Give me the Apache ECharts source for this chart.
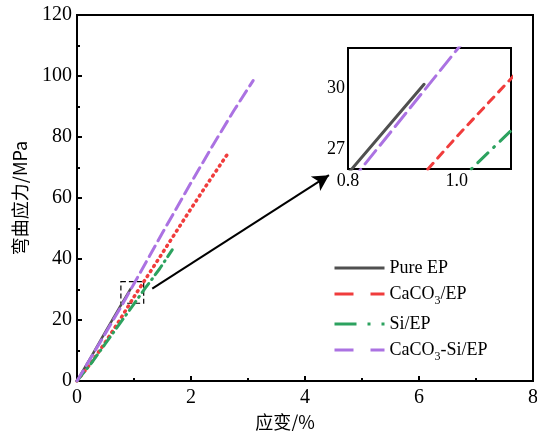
<!DOCTYPE html>
<html>
<head>
<meta charset="utf-8">
<script src="https://cdn.jsdelivr.net/npm/echarts@6/dist/echarts.min.js"></script>
<style>
  html, body { margin: 0; padding: 0; background: #fff; }
  #chart { width: 537px; height: 431px; }
</style>
</head>
<body>
<div id="chart"></div>
<script>
// Flexural stress–strain curves, [strain %, stress MPa]
const pureEP = [[0, 0], [0.25, 8.0], [0.5, 16.2], [0.75, 24.2], [0.94, 30.2]];
const caco3EP = [[0, 0], [0.25, 6.0], [0.5, 12.8], [0.75, 20.0], [1.0, 27.6], [1.5, 42.0], [2.0, 56.5], [2.3, 65.0], [2.63, 74.1]];
const siEP = [[0, 0], [0.25, 5.8], [0.5, 12.3], [0.75, 18.8], [1.0, 25.3], [1.2, 30.5], [1.45, 36.8], [1.67, 43.0]];
const caco3SiEP = [[0, 0], [0.4, 12.5], [0.8, 25.2], [1.0, 31.9], [1.5, 48.6], [2.0, 65.0], [2.4, 77.8], [2.75, 88.6], [3.09, 98.5]];

const seriesNames = ['Pure EP', 'CaCO3/EP', 'Si/EP', 'CaCO3-Si/EP'];
const xTicks = [0, 2, 4, 6, 8];
const yTicks = [0, 20, 40, 60, 80, 100, 120];
const insetXTicks = [0.8, 1.0];
const insetYTicks = [27, 30];
const insetXRange = [0.8, 1.1];
const insetYRange = [26, 32];
// magnified region outline and the pointer to the inset
const zoomBox = [[0.77, 32.6], [1.17, 25.5]];
const pointer = [[1.32, 30.3], [4.42, 67.5]];

const colors = ['#505050', '#f03c3c', '#2ca25f', '#ab72e2'];
const curves = [pureEP, caco3EP, siEP, caco3SiEP];
const mainDash = ['solid', [1, 5], [11, 5, 1, 5], [12, 6]];
const insetDash = ['solid', [8, 7], [14, 8, 1, 8], [17, 7]];
const legendDash = ['solid', [19, 17], [22, 11, 3, 11, 3, 30], [19, 17]];

const serif = 'Liberation Serif';
const labelText = { fontFamily: serif, fontSize: 20, color: '#000' };

const chart = echarts.init(document.getElementById('chart'), null, { renderer: 'canvas' });

const series = [];
curves.forEach((data, i) => {
  series.push({
    name: seriesNames[i], type: 'line', data: data,
    xAxisIndex: 0, yAxisIndex: 0,
    showSymbol: false, symbol: 'none', smooth: false,
    lineStyle: { color: colors[i], width: i === 0 ? 2.5 : (i === 1 ? 3.5 : 3), type: mainDash[i], cap: 'round' },
    itemStyle: { color: colors[i] },
    z: 3
  });
});
curves.forEach((data, i) => {
  series.push({
    name: seriesNames[i], type: 'line', data: data,
    xAxisIndex: 1, yAxisIndex: 1,
    showSymbol: false, symbol: 'none', clip: true,
    lineStyle: { color: colors[i], width: 3, type: insetDash[i], cap: 'round' },
    itemStyle: { color: colors[i] },
    z: 5
  });
});
// annotation: dashed box + arrow
series.push({
  type: 'line', data: [], xAxisIndex: 0, yAxisIndex: 0, silent: true,
  markArea: {
    silent: true,
    itemStyle: { color: 'rgba(0,0,0,0)', borderColor: '#000', borderWidth: 1.2, borderType: [5, 3] },
    data: [[{ coord: zoomBox[0] }, { coord: zoomBox[1] }]]
  },
  markLine: {
    silent: true, symbol: ['none', 'arrow'], symbolSize: [13, 16],
    lineStyle: { color: '#000', width: 2, type: 'solid' },
    label: { show: false },
    data: [[{ coord: pointer[0] }, { coord: pointer[1] }]]
  },
  z: 4
});

const legendFmt = name => name.replace(/CaCO3/g, 'CaCO{sub|3}');

const option = {
  animation: false,
  backgroundColor: '#fff',
  grid: [
    { left: 77, right: 4, top: 15, bottom: 50, outerBoundsMode: 'none', containLabel: false, show: true, borderColor: '#000', borderWidth: 2, backgroundColor: 'transparent' },
    { left: 348, top: 48, width: 163, height: 121, outerBoundsMode: 'none', containLabel: false, show: true, borderColor: '#000', borderWidth: 2, backgroundColor: '#fff', z: 4 }
  ],
  xAxis: [
    {
      gridIndex: 0, type: 'value', min: xTicks[0], max: xTicks[xTicks.length - 1], interval: 2,
      name: '应变/%', nameLocation: 'middle', nameGap: 31,
      nameTextStyle: { fontFamily: 'Noto Sans CJK SC', fontSize: 18, color: '#000', padding: [0, 40, 0, 0] },
      axisLine: { lineStyle: { color: '#000', width: 2 } },
      axisTick: { inside: true, length: 5, lineStyle: { width: 2, color: '#000' } },
      minorTick: { show: true, splitNumber: 2, length: 3, lineStyle: { width: 2, color: '#000' } },
      axisLabel: Object.assign({ margin: 7 }, labelText),
      splitLine: { show: false }
    },
    {
      gridIndex: 1, type: 'value', min: insetXRange[0], max: insetXRange[1],
      axisLine: { lineStyle: { color: '#000', width: 2 } },
      axisTick: { inside: true, length: 4, customValues: insetXTicks, lineStyle: { width: 1.5, color: '#000' } },
      axisLabel: Object.assign({ margin: 3, customValues: insetXTicks, formatter: v => v.toFixed(1) }, labelText, { fontSize: 18 }),
      splitLine: { show: false }
    }
  ],
  yAxis: [
    {
      gridIndex: 0, type: 'value', min: yTicks[0], max: yTicks[yTicks.length - 1], interval: 20,
      name: '弯曲应力/MPa', nameLocation: 'middle', nameGap: 48,
      nameTextStyle: { fontFamily: 'Noto Sans CJK SC', fontSize: 18, color: '#000' },
      axisLine: { lineStyle: { color: '#000', width: 2 } },
      axisTick: { inside: true, length: 5, lineStyle: { width: 2, color: '#000' } },
      minorTick: { show: true, splitNumber: 2, length: 3, lineStyle: { width: 2, color: '#000' } },
      axisLabel: Object.assign({ margin: 5 }, labelText),
      splitLine: { show: false }
    },
    {
      gridIndex: 1, type: 'value', min: insetYRange[0], max: insetYRange[1],
      axisLine: { lineStyle: { color: '#000', width: 2 } },
      axisTick: { inside: true, length: 4, customValues: insetYTicks, lineStyle: { width: 1.5, color: '#000' } },
      axisLabel: Object.assign({ margin: 3, customValues: insetYTicks }, labelText, { fontSize: 18 }),
      splitLine: { show: false }
    }
  ],
  legend: {
    orient: 'vertical', left: 333, top: 259, padding: 0,
    itemWidth: 50, itemHeight: 14, itemGap: 8,
    formatter: legendFmt,
    textStyle: {
      fontFamily: serif, fontSize: 18, color: '#000',
      rich: { sub: { fontFamily: serif, fontSize: 12, lineHeight: 12, verticalAlign: 'top', padding: [10, 0, 0, 0] } }
    },
    data: seriesNames.map((n, i) => ({
      name: n,
      itemStyle: { color: 'rgba(0,0,0,0)', borderColor: 'rgba(0,0,0,0)', borderWidth: 0, opacity: 0 },
      lineStyle: { color: colors[i], width: 3, type: legendDash[i], cap: 'butt', opacity: 1 }
    }))
  },
  series: series
};

chart.setOption(option);
</script>
</body>
</html>
